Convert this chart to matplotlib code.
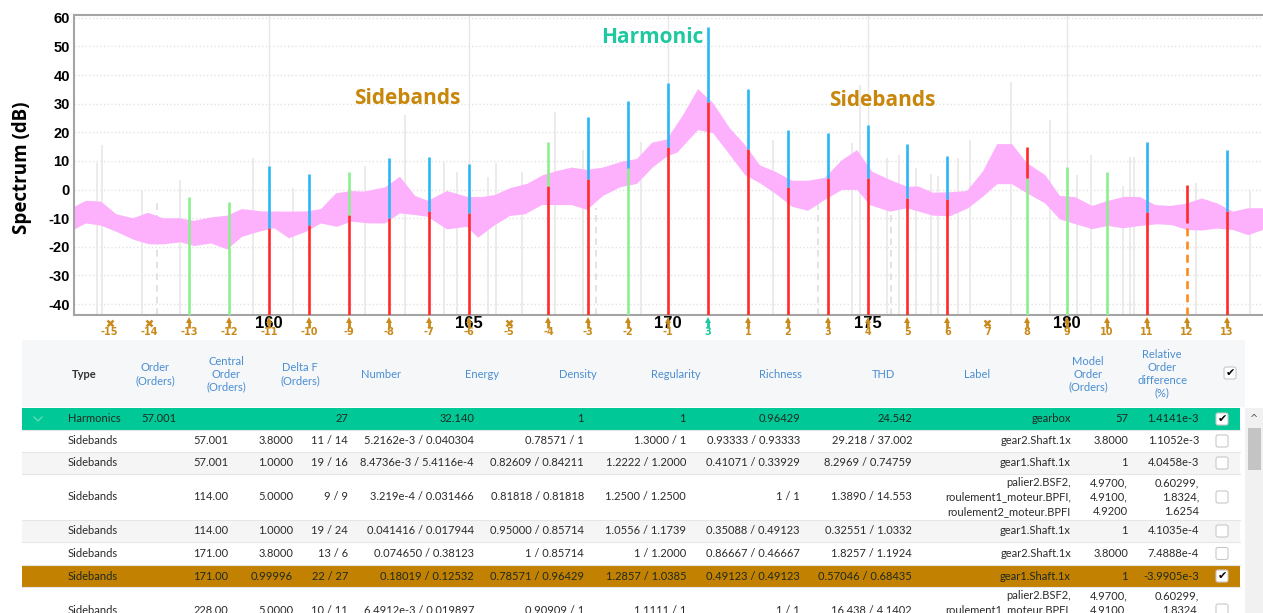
import numpy as np
import matplotlib
matplotlib.use("Agg")
import matplotlib.pyplot as plt
import matplotlib.transforms as mtransforms
from matplotlib.patches import Rectangle, FancyBboxPatch

W, H = 1263, 613

# ---------------- spectrum data (orders / dB) ----------------
band_up_x = [155.11, 155.41, 155.79, 156.17, 156.59, 156.97, 157.34, 157.74, 158.12, 158.55,
             158.95, 159.32, 159.80, 160.55, 160.95, 161.30, 161.68, 162.06, 162.38, 162.91,
             163.28, 163.66, 163.98, 164.46, 164.96, 165.34, 165.66, 166.04, 166.47, 166.87,
             167.22, 167.59, 167.97, 168.37, 168.85, 169.22, 169.60, 169.97, 170.38, 170.75,
             171.13, 171.55, 171.93, 172.31, 172.68, 173.11, 173.51, 173.93, 174.36, 174.74,
             175.11, 175.56, 175.99, 176.27, 176.64, 177.07, 177.49, 177.89, 178.25, 178.62,
             179.00, 179.45, 179.82, 180.20, 180.63, 181.03, 181.45, 181.83, 182.21, 182.58,
             182.96, 183.38, 183.76, 184.16, 184.54, 184.91]
band_up_y = [-6.1, -3.9, -4.2, -8.6, -10.0, -8.1, -10.0, -10.0, -10.9, -9.7,
             -9.1, -6.8, -7.6, -7.7, -7.6, -6.8, -1.3, -0.5, -0.7, 0.8,
             4.5, -2.2, -3.9, -0.5, -2.5, -2.6, -1.9, 0.5, 2.0, 5.1,
             6.5, 7.7, 6.9, 7.7, 9.8, 10.7, 16.4, 17.5, 26.1, 35.1,
             30.2, 21.4, 15.6, 8.4, 6.3, 3.1, 3.1, 4.1, 10.3, 13.8,
             6.3, 3.4, 1.0, 1.1, -1.1, -0.9, -0.5, 6.3, 15.9, 15.9,
             9.2, 5.1, -2.2, -2.6, -5.7, -3.9, -2.5, -2.6, -5.4, -5.7,
             -5.0, -3.1, -4.8, -7.7, -6.5, -6.5]
band_lo_x = [155.11, 155.41, 155.79, 156.17, 156.62, 156.99, 157.37, 157.79, 158.12, 158.55,
             158.95, 159.32, 159.80, 160.13, 160.50, 160.93, 161.30, 161.70, 162.06, 162.53,
             162.91, 163.28, 163.66, 163.98, 164.46, 164.96, 165.24, 165.66, 166.04, 166.42,
             166.84, 167.59, 167.97, 168.37, 168.80, 169.22, 169.62, 170.00, 170.23, 170.75,
             171.13, 171.55, 171.93, 172.31, 172.68, 173.11, 173.51, 173.93, 174.36, 174.74,
             175.06, 175.56, 175.99, 176.64, 177.07, 177.52, 177.89, 178.25, 178.62, 179.00,
             179.45, 179.82, 180.20, 180.63, 181.03, 181.40, 181.83, 182.26, 182.63, 183.01,
             183.38, 183.76, 184.16, 184.54, 184.91]
band_lo_y = [-14.0, -11.8, -12.6, -14.7, -17.6, -19.1, -19.1, -18.4, -19.7, -18.8,
             -20.9, -16.5, -14.5, -13.5, -17.0, -14.7, -11.8, -13.0, -11.2, -11.8,
             -11.8, -8.3, -8.9, -9.5, -13.9, -13.0, -16.8, -12.4, -9.2, -8.6,
             -5.4, -5.4, -7.1, -2.2, 0.8, 2.0, 7.8, 11.8, 12.9, 20.8,
             19.7, 12.1, 5.1, 2.2, -1.3, -6.0, -7.4, -3.6, -0.1, -0.1,
             -5.4, -7.7, -6.5, -9.1, -9.3, -6.5, -2.5, 1.9, 1.9, -1.3,
             -4.8, -10.4, -12.0, -13.8, -12.7, -13.5, -12.7, -12.1, -12.4, -14.1,
             -14.3, -13.6, -14.1, -15.9, -14.1]

# faint spectrum lines
spec_x = [155.68, 155.81, 156.81, 157.77, 159.60, 160.60, 162.41, 163.41, 164.39, 164.71,
          165.49, 165.69, 166.34, 167.17, 167.87, 169.32, 172.63, 174.61, 174.80, 175.49,
          175.79, 176.22, 176.59, 176.77, 177.27, 177.57, 178.60, 179.57, 180.25, 180.60,
          181.40, 181.58, 181.68, 183.23, 184.59]
spec_top = [9.3, 15.6, -0.5, 3.4, 11.0, 0.5, 8.4, 26.0, 9.8, 6.2,
            4.5, 9.2, 6.0, 27.2, 13.8, 16.8, 17.5, 16.3, 36.6, 11.0,
            12.1, 7.4, 5.4, 4.9, 11.0, 17.3, 37.7, 24.3, 5.0, 12.0,
            1.3, 11.3, 11.3, 2.4, -0.6]
ghost_x = [157.2, 168.2, 173.76, 175.58]
ghost_top = [-3.3, -6.4, 4.5, -2.5]

# harmonic and sidebands
harm_order = 171.0
sb_spacing = 1.0
mark_k = list(range(-15, 14))
mark_text = [str(k) for k in mark_k]
mark_text[mark_k.index(0)] = '3'
mark_cross = [-15, -14, -5, 7]

line_k = [-13, -12, -11, -10, -9, -8, -7, -6, -4, -3, -2, -1, 0, 1, 2, 3, 4, 5, 6, 8, 9, 10, 11, 12, 13]
line_split = [-2.5, -4.3, -13.4, -12.2, -8.9, -9.8, -7.5, -8.3, 1.3, 3.6, 7.4, 15.0, 30.5,
              14.1, 0.8, 4.2, 4.2, -2.8, -3.4, 4.2, 8.0, 6.0, -7.7, -11.6, -7.4]
line_top = [-2.5, -4.3, 8.4, 5.3, 6.1, 11.2, 11.5, 8.8, 16.5, 25.3, 30.8, 37.2, 56.8,
            35.1, 20.8, 19.9, 22.6, 15.9, 11.9, 15.0, 8.0, 6.0, 16.8, 1.6, 13.8]
line_low = ['g', 'g', 'r', 'r', 'r', 'r', 'r', 'r', 'r', 'r', 'g', 'r', 'r',
            'r', 'r', 'r', 'r', 'r', 'r', 'g', 'g', 'g', 'r', 'o', 'r']
line_up = ['g', 'g', 'b', 'b', 'g', 'b', 'b', 'b', 'g', 'b', 'b', 'b', 'b',
           'b', 'b', 'b', 'b', 'b', 'b', 'r', 'g', 'g', 'b', 'r', 'b']

# ---------------- table data ----------------
row_type = ['Harmonics', 'Sidebands', 'Sidebands', 'Sidebands', 'Sidebands', 'Sidebands', 'Sidebands', 'Sidebands']
col_order = ['57.001', '', '', '', '', '', '', '']
col_central = ['', '57.001', '57.001', '114.00', '114.00', '171.00', '171.00', '228.00']
col_delta = ['', '3.8000', '1.0000', '5.0000', '1.0000', '3.8000', '0.99996', '5.0000']
col_number = ['27', '11 / 14', '19 / 16', '9 / 9', '19 / 24', '13 / 6', '22 / 27', '10 / 11']
col_energy = ['32.140', '5.2162e-3 / 0.040304', '8.4736e-3 / 5.4116e-4', '3.219e-4 / 0.031466',
              '0.041416 / 0.017944', '0.074650 / 0.38123', '0.18019 / 0.12532', '6.4912e-3 / 0.019897']
col_density = ['1', '0.78571 / 1', '0.82609 / 0.84211', '0.81818 / 0.81818', '0.95000 / 0.85714',
               '1 / 0.85714', '0.78571 / 0.96429', '0.90909 / 1']
col_regularity = ['1', '1.3000 / 1', '1.2222 / 1.2000', '1.2500 / 1.2500', '1.0556 / 1.1739',
                  '1 / 1.2000', '1.2857 / 1.0385', '1.1111 / 1']
col_richness = ['0.96429', '0.93333 / 0.93333', '0.41071 / 0.33929', '1 / 1', '0.35088 / 0.49123',
                '0.86667 / 0.46667', '0.49123 / 0.49123', '1 / 1']
col_thd = ['24.542', '29.218 / 37.002', '8.2969 / 0.74759', '1.3890 / 14.553', '0.32551 / 1.0332',
           '1.8257 / 1.1924', '0.57046 / 0.68435', '16.438 / 4.1402']
bearings = 'palier2.BSF2,\nroulement1_moteur.BPFI,\nroulement2_moteur.BPFI'
col_label = ['gearbox', 'gear2.Shaft.1x', 'gear1.Shaft.1x', bearings, 'gear1.Shaft.1x',
             'gear2.Shaft.1x', 'gear1.Shaft.1x', bearings]
col_model = ['57', '3.8000', '1', '4.9700,\n4.9100,\n4.9200', '1', '3.8000', '1', '4.9700,\n4.9100,\n4.9200']
col_reldiff = ['1.4141e-3', '1.1052e-3', '4.0458e-3', '0.60299,\n1.8324,\n1.6254', '4.1035e-4',
               '7.4888e-4', '-3.9905e-3', '0.60299,\n1.8324,\n1.6254']
row_checked = [True, False, False, False, False, False, True, False]
headers = ['Type', 'Order\n(Orders)', 'Central\nOrder\n(Orders)', 'Delta F\n(Orders)', 'Number', 'Energy',
           'Density', 'Regularity', 'Richness', 'THD', 'Label', 'Model\nOrder\n(Orders)',
           'Relative\nOrder\ndifference\n(%)']

# ---------------- figure ----------------
fig = plt.figure(figsize=(W / 100, H / 100), dpi=100)

def px_rect(x0, y0, x1, y1):
    return [x0 / W, 1 - y1 / H, (x1 - x0) / W, (y1 - y0) / H]

# table canvas in pixel coordinates
tax = fig.add_axes([0, 0, 1, 1])
tax.set_xlim(0, W)
tax.set_ylim(H, 0)
tax.axis('off')

ax = fig.add_axes(px_rect(74, 15, 1263, 315))
ax.set_xlim(155.11, 184.91)
ax.set_ylim(-43.8, 61.0)
ybot = ax.get_ylim()[0]

colors = {'r': '#ff2b2b', 'b': '#2bb7f5', 'g': '#8cee8c', 'o': '#ff8a1c'}

ax.vlines(spec_x, ybot, spec_top, color='#e8e8e8', lw=1.2, zorder=1)
ax.vlines(ghost_x, ybot, ghost_top, color='#dedede', lw=1.2, linestyles=(0, (4, 3)), zorder=1)

poly_x = band_up_x + band_lo_x[::-1]
poly_y = band_up_y + band_lo_y[::-1]
ax.fill(poly_x, poly_y, color='#fdb0fb', lw=0, zorder=2)

for k, s, t, cl, cu in zip(line_k, line_split, line_top, line_low, line_up):
    x = harm_order + k * sb_spacing
    ls = (0, (3, 2)) if cl == 'o' else '-'
    ax.vlines(x, ybot, s, color=colors[cl], lw=1.9, linestyles=ls, zorder=3)
    if t > s:
        ax.vlines(x, s, t, color=colors[cu], lw=1.9, zorder=3)

# markers below the axis
trans = mtransforms.blended_transform_factory(ax.transData, ax.transAxes)
for k, txt in zip(mark_k, mark_text):
    x = harm_order + k * sb_spacing
    c = '#1ec8a0' if k == 0 else '#c98a1c'
    if k in mark_cross:
        ax.plot(x, -0.027, marker='x', ms=4, mew=1.8, color=c, transform=trans, clip_on=False)
    else:
        ax.plot(x, -0.016, marker='^', ms=5, color=c, mew=0, transform=trans, clip_on=False)
        ax.plot(x, -0.032, marker='|', ms=5, mew=2, color=c, transform=trans, clip_on=False)
    ax.text(x, -0.057, txt, transform=trans, ha='center', va='center', fontsize=7,
            fontweight='bold', color=c, family='DejaVu Sans')

ax.set_yticks(range(-40, 61, 10))
ax.set_yticklabels([str(v) for v in range(-40, 61, 10)], fontsize=10.5, fontweight='bold',
                   family='Liberation Sans')
ax.set_xticks(range(160, 181, 5))
ax.set_xticklabels([str(v) for v in range(160, 181, 5)], fontsize=12, fontweight='bold',
                   family='Liberation Sans')
ax.tick_params(length=0)
ax.tick_params(axis='y', pad=3)
ax.tick_params(axis='x', pad=1)
ax.grid(axis='y', color='#e2e2e2', ls=':', lw=1)
ax.grid(axis='x', color='#e8e8e8', ls='-', lw=1)
ax.set_axisbelow(True)
for side in ['left', 'bottom', 'top']:
    ax.spines[side].set_color('#a4a4a4')
    ax.spines[side].set_linewidth(1.5)
ax.spines['right'].set_visible(False)

ax.text(169.6, 53, 'Harmonic', ha='center', va='center', fontsize=15, fontweight='bold',
        color='#1ec8a0', family='Open Sans', zorder=4)
ax.text(163.46, 32, 'Sidebands', ha='center', va='center', fontsize=15, fontweight='bold',
        color='#c8860a', family='Open Sans', zorder=4)
ax.text(175.36, 31.3, 'Sidebands', ha='center', va='center', fontsize=15, fontweight='bold',
        color='#c8860a', family='Open Sans', zorder=4)

fig.text(22 / W, 1 - 168 / H, 'Spectrum (dB)', rotation=90, ha='center', va='center',
         fontsize=13.5, fontweight='bold', family='Open Sans')

# ---------------- table ----------------
tfont = 'Lato'
fs = 8
tax.add_patch(Rectangle((22, 340), 1223, 67, color='#f6f7f9', lw=0))
header_x = [84, 155, 226, 300, 381, 482, 578, 676, 780, 883, 977, 1088, 1162]
for i, (hx, ht) in enumerate(zip(header_x, headers)):
    if i == 0:
        tax.text(hx, 374, ht, ha='center', va='center', fontsize=fs, fontweight='bold',
                 color='#333333', family=tfont)
    else:
        tax.text(hx, 374, ht, ha='center', va='center', fontsize=fs, color='#4a8ed2',
                 family=tfont, linespacing=1.2, multialignment='center')

def checkbox(cx, cy, checked, edge='#c9c9c9'):
    tax.add_patch(FancyBboxPatch((cx - 6, cy - 6), 12, 12, boxstyle='round,pad=0,rounding_size=2',
                                 fc='white', ec=edge, lw=0.8))
    if checked:
        tax.text(cx, cy, '\u2714', ha='center', va='center', fontsize=8, color='black',
                 family='DejaVu Sans')

checkbox(1230, 373, True)

row_top = [408, 430, 452, 474, 520, 542, 565, 587]
row_bot = [430, 452, 474, 520, 542, 565, 587, 633]
row_bg = ['#00c896', 'white', '#f5f5f5', 'white', '#f5f5f5', 'white', '#c28100', 'white']
col_right = [176, 228, 293, 348, 474, 584, 686, 800, 912, 1071, 1128, 1199]
columns = [col_order, col_central, col_delta, col_number, col_energy, col_density,
           col_regularity, col_richness, col_thd, col_label, col_model, col_reldiff]

for r in range(len(row_type)):
    y0, y1 = row_top[r], row_bot[r]
    yc = (y0 + y1) / 2
    tax.add_patch(Rectangle((22, y0), 1218, y1 - y0, color=row_bg[r], lw=0, zorder=0))
    tax.plot([22, 1240], [y1, y1], color='#e6e6e6', lw=0.8, zorder=1)
    tcol = '#2a2a2a' if row_bg[r] in ('white', '#f5f5f5') else '#1e2a22'
    if r == 0:
        tax.plot([34, 38, 42], [417, 421, 417], color='#5fdcb8', lw=1)
    tax.text(68, yc, row_type[r], ha='left', va='center', fontsize=fs, color=tcol, family=tfont)
    for xr, col in zip(col_right, columns):
        if col[r]:
            tax.text(xr, yc, col[r], ha='right', va='center', fontsize=fs, color=tcol,
                     family=tfont, linespacing=1.35, multialignment='right')
    checkbox(1222, yc, row_checked[r])

# scrollbar
tax.add_patch(Rectangle((1245, 408), 18, 205, color='#f1f1f1', lw=0))
tax.add_patch(Rectangle((1248, 428), 13, 42, color='#c4c4c4', lw=0))
tax.text(1254.5, 419, '^', ha='center', va='center', fontsize=7, color='#555555')

fig.savefig('out.png', dpi=100)
